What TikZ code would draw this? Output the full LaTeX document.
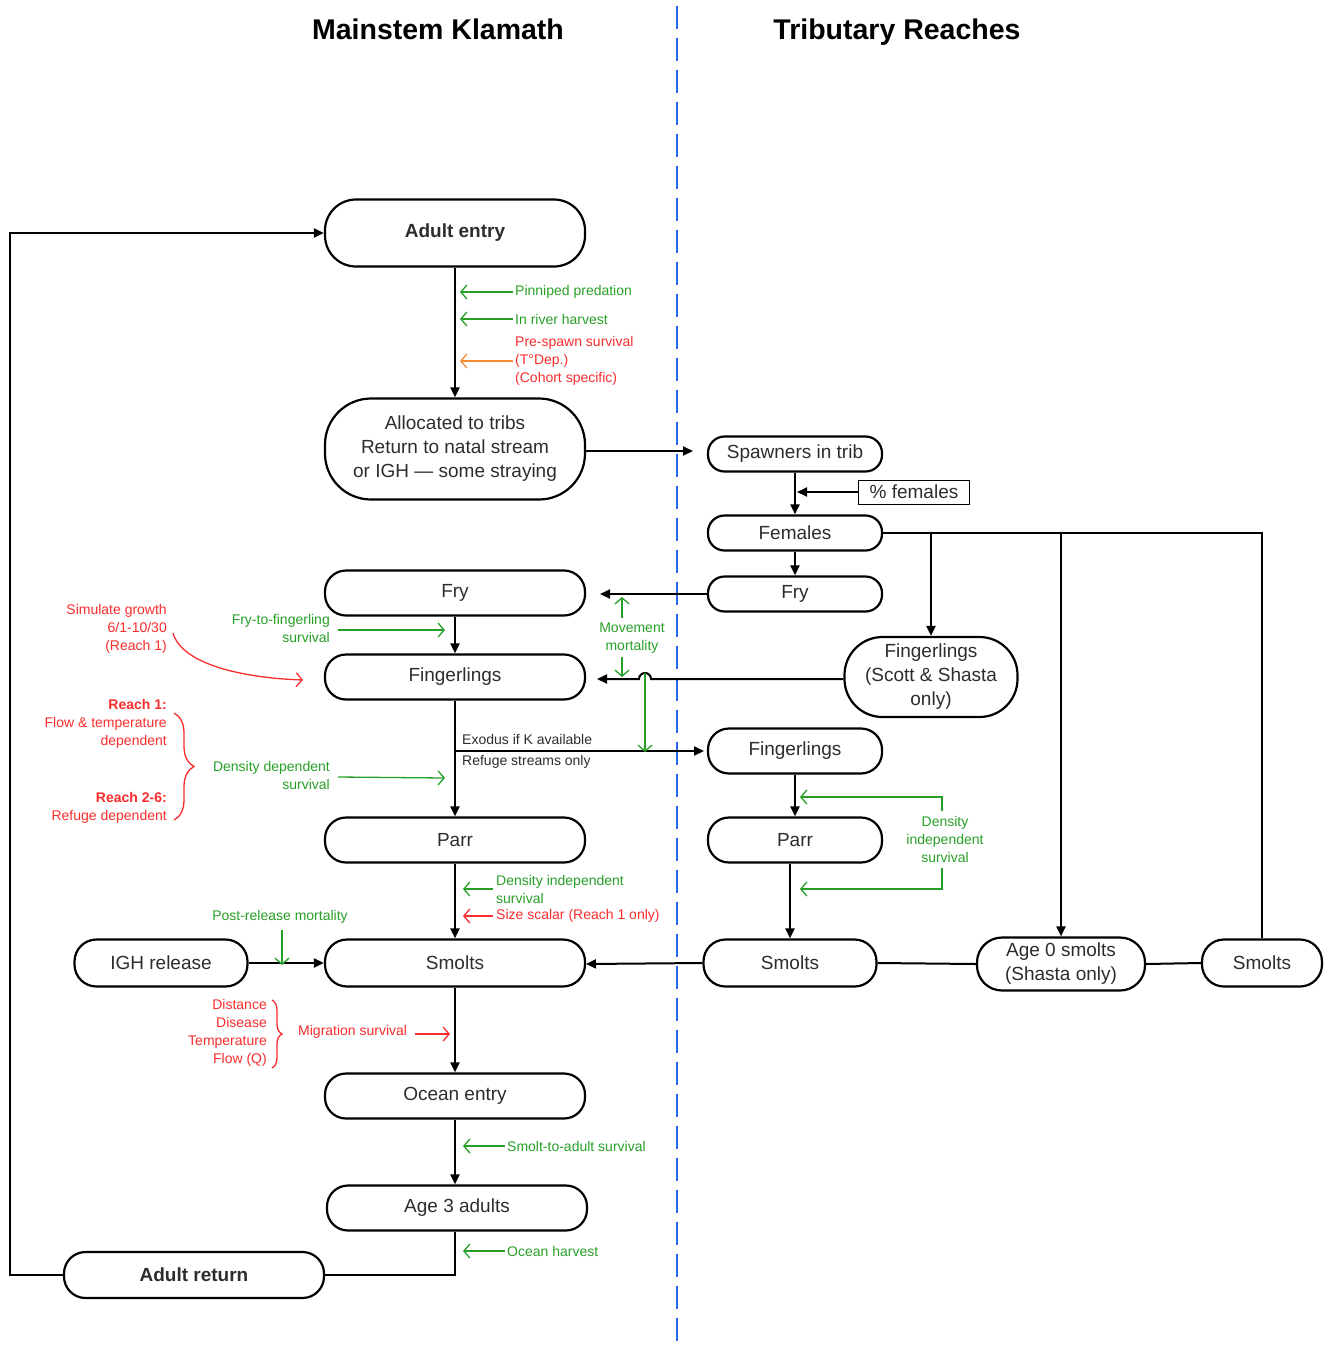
\documentclass[tikz,border=0pt]{standalone}
\usepackage{fontspec}
\setmainfont{Liberation Sans}
\usetikzlibrary{arrows.meta,decorations.pathreplacing}
\definecolor{gr}{RGB}{40,160,40}
\definecolor{rd}{RGB}{250,45,45}
\definecolor{og}{RGB}{250,140,50}
\definecolor{bl}{RGB}{40,100,240}
\definecolor{tx}{RGB}{45,45,45}
\begin{document}
\begin{tikzpicture}[x=1pt,y=-1pt,
  pill/.style={draw=black, line width=2.2pt, text=tx, align=center, inner sep=0pt,
    font=\fontsize{19}{24}\selectfont, minimum width=260pt, minimum height=45pt, rounded corners=21pt},
  rpill/.style={pill, minimum width=174pt, minimum height=35pt, rounded corners=16.5pt},
  blk/.style={line width=2pt, -{Triangle[length=10pt,width=9pt]}},
  pl/.style={line width=2pt},
  ga/.style={gr, line width=1.3pt, -{Straight Barb[length=6pt,width=14pt]}},
  ra/.style={rd, line width=1.3pt, -{Straight Barb[length=6pt,width=14pt]}},
  oa/.style={og, line width=1.3pt, -{Straight Barb[length=6pt,width=14pt]}},
  glab/.style={text=gr, font=\fontsize{14}{18}\selectfont, inner sep=0pt},
  rlab/.style={text=rd, font=\fontsize{14}{18}\selectfont, inner sep=0pt},
  dlab/.style={text=tx, font=\fontsize{14}{18}\selectfont, inner sep=0pt},
  ttl/.style={font=\fontsize{28.5}{30}\selectfont\bfseries, text=black, anchor=base},
  rbrace/.style={rd, line width=1.3pt, decorate, decoration={brace, amplitude=#1}},
]
\useasboundingbox (0,0) rectangle (1324,1347);
\fill[white] (0,0) rectangle (1324,1347);

% titles and divider
\node[ttl] (t1) at (438,39) {Mainstem Klamath};
\node[ttl] (t2) at (897,39) {Tributary Reaches};
\draw[bl, line width=2pt, dash pattern=on 23pt off 9pt] (677,6) -- (677,1347);

% mainstem nodes
\node[pill, minimum height=67pt, rounded corners=31pt, font=\fontsize{19}{24}\selectfont\bfseries] (ae) at (455,233) {Adult entry};
\node[pill, minimum height=101pt, rounded corners=46pt] (alloc) at (455,449) {Allocated to tribs\\Return to natal stream\\or IGH --- some straying};
\node[pill] (fry) at (455,593) {Fry};
\node[pill] (fing) at (455,677) {Fingerlings};
\node[pill] (parr) at (455,840) {Parr};
\node[pill, minimum height=47pt, rounded corners=22pt] (sm) at (455,963) {Smolts};
\node[pill, minimum width=173pt, minimum height=47pt, rounded corners=22pt] (igh) at (161,963) {IGH release};
\node[pill] (oce) at (455,1096) {Ocean entry};
\node[pill] (a3) at (457,1208) {Age 3 adults};
\node[pill, minimum height=46pt, rounded corners=21.5pt, font=\fontsize{19}{24}\selectfont\bfseries] (ar) at (194,1275) {Adult return};

% tributary nodes
\node[rpill] (sp) at (795,454) {Spawners in trib};
\node[draw=black, line width=1pt, minimum width=111pt, minimum height=24pt, inner sep=0pt, text=tx, font=\fontsize{19}{24}\selectfont] (pf) at (914,492) {\% females};
\node[rpill] (fem) at (795,533) {Females};
\node[rpill] (fryr) at (795,594) {Fry};
\node[pill, minimum width=173pt, minimum height=80pt, rounded corners=38pt] (fgs) at (931,677) {Fingerlings\\(Scott \& Shasta\\only)};
\node[rpill, minimum height=45pt, rounded corners=21pt] (fgr) at (795,751) {Fingerlings};
\node[rpill, minimum height=45pt, rounded corners=21pt] (parrr) at (795,840) {Parr};
\node[rpill, minimum width=173pt, minimum height=47pt, rounded corners=22pt] (smr) at (790,963) {Smolts};
\node[pill, minimum width=168pt, minimum height=53pt, rounded corners=25pt] (age0) at (1061,964) {Age 0 smolts\\(Shasta only)};
\node[pill, minimum width=120pt, minimum height=47pt, rounded corners=22pt] (smf) at (1262,963) {Smolts};

% free ends
\coordinate (allocend) at (693,451);
\coordinate (pfend) at (797,492);
\coordinate (fryend) at (600,594);
\coordinate (fingend) at (597,679);
\coordinate (ex) at (455,751);
\coordinate (exend) at (704,751);
\coordinate (smend) at (586,964);

% main connectors
\draw[blk] (ae) -- (alloc);
\draw[blk] (alloc.east |- allocend) -- (allocend);
\draw[blk] (sp) -- (fem);
\draw[blk] (pf.west) -- (pfend);
\draw[blk] (fem) -- (fryr);
\draw[pl] (fem.east) -- (smf.north |- fem.east) -- (smf.north);
\draw[blk] (fgs.north |- fem.east) -- (fgs.north);
\draw[blk] (age0.north |- fem.east) -- (age0.north);
\draw[blk] (fryr.west) -- (fryend);
\draw[blk] (fgs.west |- fingend) -- (651,679) arc (0:-180:6) -- (fingend);
\draw[blk] (fry) -- (fing);
\draw[blk] (fing) -- (parr);
\draw[blk] (ex) -- (exend);
\draw[blk] (fgr) -- (parrr);
\draw[blk] (parrr.south -| smr.north) -- (smr.north);
\draw[blk] (parr) -- (sm);
\draw[blk] (smr.west) -- (smend);
\draw[pl] (smr.east) -- (age0.west);
\draw[pl] (age0.east) -- (smf.west);
\draw[blk] (igh.east) -- (sm.west);
\draw[blk] (sm) -- (oce);
\draw[blk] (oce.south) -- (oce.south |- a3.north);
\draw[pl] (a3.south -| oce.south) -- (oce.south |- ar.east) -- (ar.east);
\draw[blk] (ar.west) -- (10,1275) -- (10,233) -- (ae.west);

% annotations: adult entry
\draw[ga] (513,292) -- (460,292);
\node[glab, anchor=west] (l1) at (515,292) {Pinniped predation};
\draw[ga] (513,319) -- (460,319);
\node[glab, anchor=west] (l2) at (515,319) {In river harvest};
\draw[oa] (513,361) -- (460,361);
\node[rlab, anchor=west, align=left] (l3) at (515,361) {Pre-spawn survival\\(T°Dep.)\\(Cohort specific)};

% fry / fingerlings
\node[rlab, anchor=east, align=right] (l4) at (167,629) {Simulate growth\\6/1-10/30\\(Reach 1)};
\draw[ra] (173,633) .. controls (182,665) and (245,678) .. (303,680);
\node[glab, anchor=east, align=right] (l5) at (330,628) {Fry-to-fingerling\\survival};
\draw[ga] (338,630) -- (445,630);
\node[glab, align=center] (l6) at (632,638) {Movement\\mortality};
\draw[ga] (622,618) -- (622,597);
\draw[ga] (622,657) -- (622,677);
\draw[ga] (645,673) -- (645,752);

% reach braces
\node[rlab, anchor=east, align=right] (l7) at (167,724) {\textbf{Reach 1:}\\Flow \& temperature\\dependent};
\node[rlab, anchor=east, align=right] (l8) at (167,808) {\textbf{Reach 2-6:}\\Refuge dependent};
\draw[rbrace=20pt] (174,713) -- (174,820);
\node[glab, anchor=east, align=right] (l9) at (330,775) {Density dependent\\survival};
\draw[ga] (338,777) -- (445,778);
\node[dlab, anchor=west] (l10) at (462,739) {Exodus if K available};
\node[dlab, anchor=west] (l11) at (462,762) {Refuge streams only};

% right density independent
\node[glab, align=center] (dis) at (945,839) {Density\\independent\\survival};
\draw[ga] (942,811) -- (942,797) -- (800,797);
\draw[ga] (942,868) -- (942,889) -- (800,889);

% parr to smolts
\draw[ga] (493,889) -- (463,889);
\node[glab, anchor=west, align=left] (l12) at (496,889) {Density independent\\survival};
\draw[ra] (493,916) -- (463,916);
\node[rlab, anchor=west] (l13) at (496,916) {Size scalar (Reach 1 only)};
\node[glab] (l14) at (280,917) {Post-release mortality};
\draw[ga] (282,930) -- (282,965);

% migration
\node[rlab, anchor=east, align=right] (l15) at (267,1033) {Distance\\Disease\\Temperature\\Flow (Q)};
\draw[rbrace=10pt] (272,1000) -- (272,1068);
\node[rlab, anchor=west] (l16) at (298,1032) {Migration survival};
\draw[ra] (415,1034) -- (450,1034);

% ocean
\draw[ga] (505,1146) -- (463,1146);
\node[glab, anchor=west] (l17) at (507,1146) {Smolt-to-adult survival};
\draw[ga] (505,1251) -- (463,1251);
\node[glab, anchor=west] (l18) at (507,1251) {Ocean harvest};
\end{tikzpicture}
\end{document}
